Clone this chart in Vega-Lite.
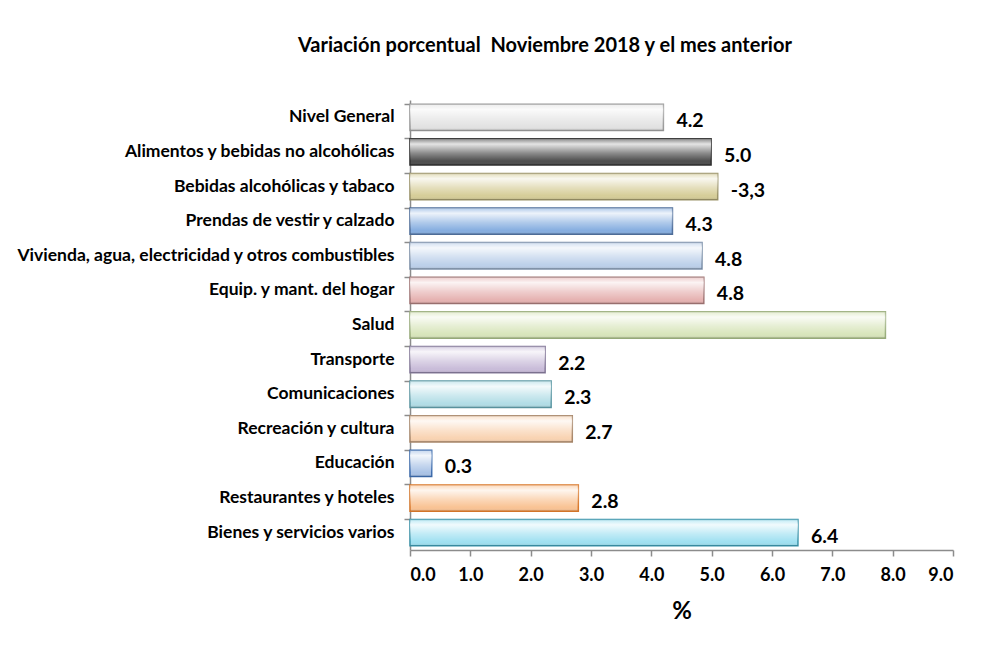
{
  "$schema": "https://vega.github.io/schema/vega-lite/v6.json",
  "width": 543,
  "height": 450,
  "autosize": {"type": "none"},
  "padding": {"left": 410, "top": 100, "right": 34, "bottom": 105},
  "background": "white",
  "title": {
    "text": "Variación porcentual\u00a0 Noviembre 2018 y el mes anterior",
    "anchor": "start",
    "frame": "group",
    "dx": -112,
    "offset": 44,
    "font": "Lato",
    "fontSize": 20,
    "fontWeight": "bold",
    "color": "#000000"
  },
  "config": {
    "view": {"stroke": null},
    "font": "Lato"
  },
  "data": {
    "values": [
      {"cat": "Nivel General", "v": 4.2, "label": "4.2"},
      {"cat": "Alimentos y bebidas no alcohólicas", "v": 4.99, "label": "5.0"},
      {"cat": "Bebidas alcohólicas y tabaco", "v": 5.1, "label": "-3,3"},
      {"cat": "Prendas de vestir y calzado", "v": 4.35, "label": "4.3"},
      {"cat": "Vivienda, agua, electricidad y otros combustibles", "v": 4.84, "label": "4.8"},
      {"cat": "Equip. y mant. del hogar", "v": 4.87, "label": "4.8"},
      {"cat": "Salud", "v": 7.88, "label": ""},
      {"cat": "Transporte", "v": 2.24, "label": "2.2"},
      {"cat": "Comunicaciones", "v": 2.34, "label": "2.3"},
      {"cat": "Recreación y cultura", "v": 2.69, "label": "2.7"},
      {"cat": "Educación", "v": 0.36, "label": "0.3"},
      {"cat": "Restaurantes y hoteles", "v": 2.79, "label": "2.8"},
      {"cat": "Bienes y servicios varios", "v": 6.43, "label": "6.4"}
    ]
  },
  "encoding": {
    "y": {
      "field": "cat",
      "type": "nominal",
      "sort": null,
      "scale": {"paddingInner": 0.24, "paddingOuter": 0.12},
      "axis": {
        "title": null,
        "bandPosition": 0,
        "domainColor": "#8c8c8c",
        "domainWidth": 1.5,
        "tickColor": "#8c8c8c",
        "tickWidth": 1.5,
        "tickSize": 6,
        "labelPadding": 10,
        "labelFont": "Lato",
        "labelFontSize": 17.5,
        "labelFontWeight": "bold",
        "labelColor": "#000000",
        "labelLimit": 500
      }
    }
  },
  "layer": [
    {
      "mark": {"type": "bar", "strokeWidth": 1.5},
      "encoding": {
        "x": {
          "field": "v",
          "type": "quantitative",
          "scale": {"domain": [0, 9], "nice": false},
          "axis": {
            "title": "%",
            "titleFont": "Lato",
            "titleFontSize": 24,
            "titleFontWeight": "bold",
            "titleColor": "#000000",
            "titlePadding": 15,
            "values": [0, 1, 2, 3, 4, 5, 6, 7, 8, 9],
            "format": ".1f",
            "grid": false,
            "domainColor": "#8c8c8c",
            "domainWidth": 1.5,
            "tickColor": "#8c8c8c",
            "tickWidth": 1.5,
            "tickSize": 6,
            "labelPadding": 10,
            "labelFont": "Lato",
            "labelFontSize": 18,
            "labelFontWeight": "bold",
            "labelColor": "#000000"
          }
        },
        "fill": {
          "field": "cat",
          "type": "nominal",
          "legend": null,
          "scale": {
            "domain": ["Nivel General", "Alimentos y bebidas no alcohólicas", "Bebidas alcohólicas y tabaco", "Prendas de vestir y calzado", "Vivienda, agua, electricidad y otros combustibles", "Equip. y mant. del hogar", "Salud", "Transporte", "Comunicaciones", "Recreación y cultura", "Educación", "Restaurantes y hoteles", "Bienes y servicios varios"],
            "range": ["#e2e2e2", "#4d4d4d", "#d6cd98", "#86aee0", "#bcd0ea", "#e6b3b2", "#d8e5bb", "#c9bcd9", "#b2dde6", "#f9d3b2", "#aac3e6", "#f9c394", "#9fe0f1"]
          }
        },
        "stroke": {
          "field": "cat",
          "type": "nominal",
          "legend": null,
          "scale": {
            "domain": ["Nivel General", "Alimentos y bebidas no alcohólicas", "Bebidas alcohólicas y tabaco", "Prendas de vestir y calzado", "Vivienda, agua, electricidad y otros combustibles", "Equip. y mant. del hogar", "Salud", "Transporte", "Comunicaciones", "Recreación y cultura", "Educación", "Restaurantes y hoteles", "Bienes y servicios varios"],
            "range": ["#9a9a9a", "#2e2e2e", "#9c9468", "#4f6f9c", "#7d91ab", "#a27675", "#9aae7c", "#857a9a", "#5f9aa6", "#a8876a", "#3d6cae", "#d9782a", "#3a94ab"]
          }
        }
      }
    },
    {
      "mark": {
        "type": "bar",
        "fill": {
          "gradient": "linear",
          "x1": 0, "y1": 0, "x2": 0, "y2": 1,
          "stops": [
            {"offset": 0, "color": "rgba(255,255,255,0.35)"},
            {"offset": 0.2, "color": "rgba(255,255,255,0.85)"},
            {"offset": 0.55, "color": "rgba(255,255,255,0.35)"},
            {"offset": 0.85, "color": "rgba(255,255,255,0.0)"},
            {"offset": 1, "color": "rgba(0,0,0,0.12)"}
          ]
        }
      },
      "encoding": {
        "x": {"field": "v", "type": "quantitative"}
      }
    },
    {
      "mark": {
        "type": "text",
        "align": "left",
        "baseline": "middle",
        "dx": 13,
        "dy": 4,
        "font": "Lato",
        "fontSize": 19.5,
        "fontWeight": "bold",
        "color": "#000000"
      },
      "encoding": {
        "x": {"field": "v", "type": "quantitative"},
        "text": {"field": "label", "type": "nominal"}
      }
    }
  ]
}
